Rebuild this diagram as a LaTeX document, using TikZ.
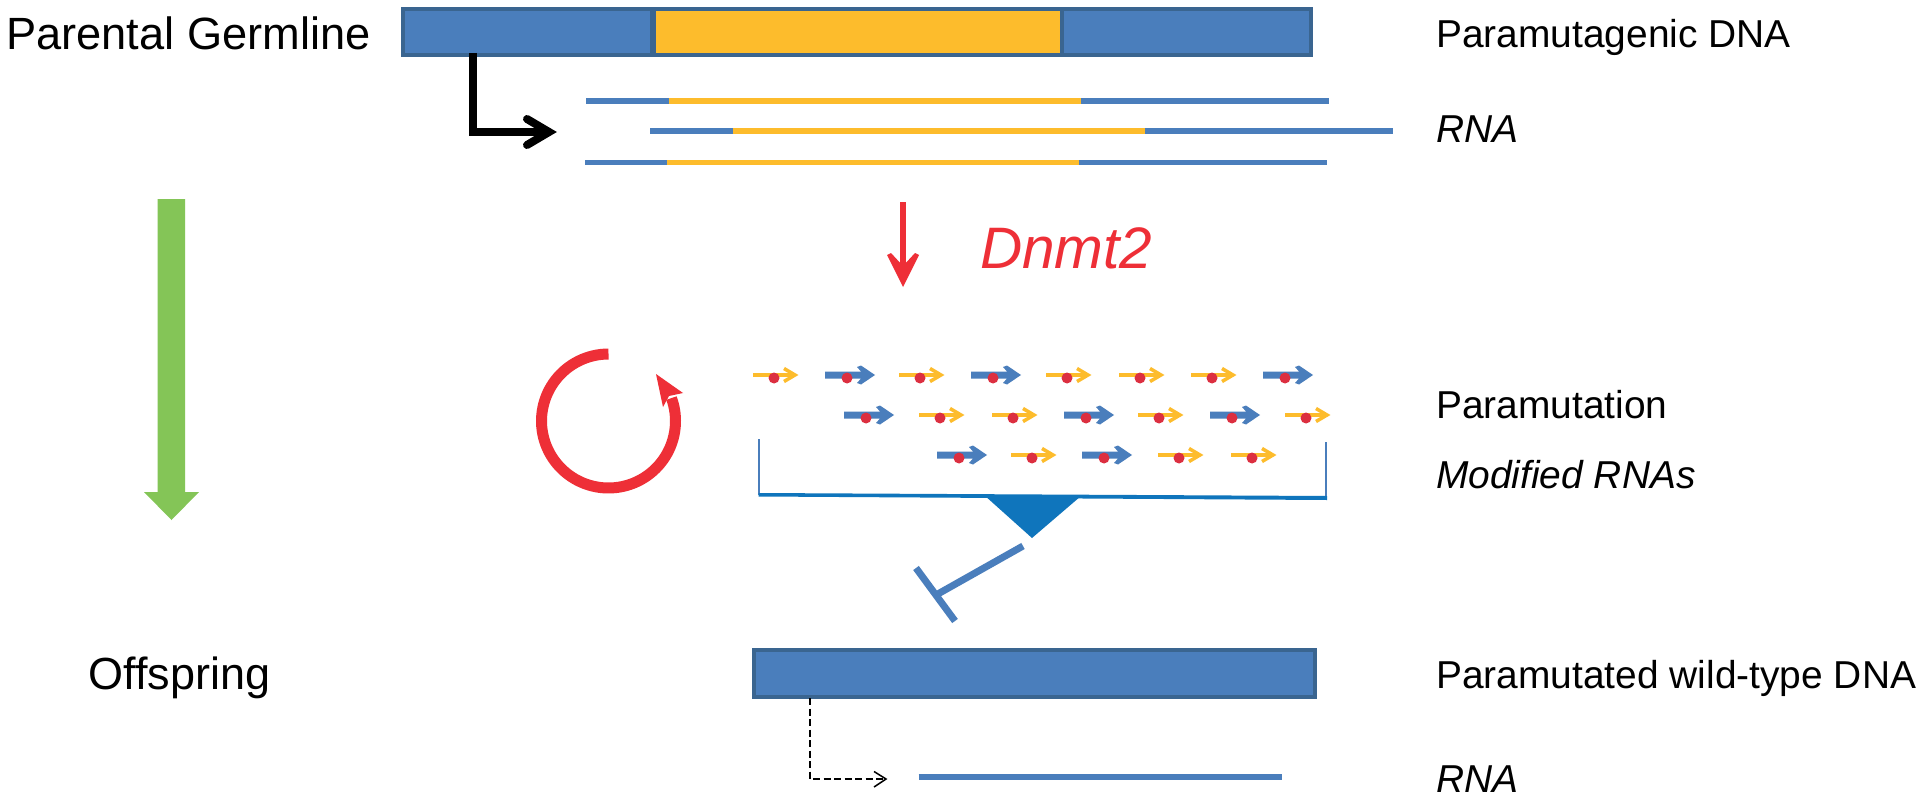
\documentclass[tikz,border=0pt]{standalone}
\usepackage{fontspec}
\setmainfont{Liberation Sans}
\definecolor{barblue}{HTML}{4A7EBC}
\definecolor{barline}{HTML}{3A6590}
\definecolor{baryellow}{HTML}{FDBC2C}
\definecolor{redc}{HTML}{EE2F37}
\definecolor{dotred}{HTML}{DC2F40}
\definecolor{greenc}{HTML}{84C557}
\definecolor{deepblue}{HTML}{0F75BC}
\tikzset{
  bluebar/.style={draw=barline,line width=4pt,fill=barblue,inner sep=0pt},
  yellowbar/.style={draw=barline,line width=4pt,fill=baryellow,inner sep=0pt},
  biglabel/.style={anchor=base west,inner sep=0pt,font=\fontsize{45.2}{50}\selectfont},
  offlabel/.style={anchor=base west,inner sep=0pt,font=\fontsize{45}{50}\selectfont},
  sidelabel/.style={anchor=base west,inner sep=0pt,font=\fontsize{38.9}{44}\selectfont},
  sideital/.style={anchor=base west,inner sep=0pt,font=\fontsize{38.9}{44}\selectfont\itshape},
  rnablue/.style={draw=barblue,line width=5.5pt},
  rnayellow/.style={draw=baryellow,line width=5.5pt},
}
\newcommand{\yellowarrow}[2]{%
  \draw[baryellow,line width=3.5pt] (#1,#2) -- ++(41,0);
  \draw[baryellow,line width=3.5pt,line join=miter] (#1+31,#2-6.5) -- (#1+42,#2) -- (#1+31,#2+6.5);
  \fill[dotred] (#1+21,#2+3) circle[radius=5.5pt];}
\newcommand{\bluearrow}[2]{%
  \fill[barblue] (#1,#2-3.5) -- (#1+36,#2-3.5) -- (#1+32,#2-8) -- (#1+36,#2-9.5) -- (#1+50,#2) -- (#1+36,#2+9.5) -- (#1+32,#2+8) -- (#1+36,#2+3.5) -- (#1,#2+3.5) -- cycle;
  \fill[dotred] (#1+22,#2+3) circle[radius=5.5pt];}
\begin{document}
\begin{tikzpicture}[x=1pt,y=-1pt]
\useasboundingbox (0,0) rectangle (1922,800);
\fill[white] (0,0) rectangle (1922,800);
% labels
\node[biglabel] (parental) at (6,49) {Parental Germline};
\node[offlabel] (offspring) at (88.5,689) {Offspring};
\node[sidelabel] (dna) at (1436,48) {Paramutagenic DNA};
\node[sideital] (rnatop) at (1436,142) {RNA};
\node[anchor=base west,inner sep=0pt,text=redc,font=\fontsize{58.5}{62}\selectfont\itshape] (dnmt) at (980,268) {Dnmt2};
\node[sidelabel] (paramutation) at (1436,418) {Paramutation};
\node[sideital] (modified) at (1436,488) {Modified RNAs};
\node[sidelabel] (wild) at (1436,688) {Paramutated wild-type DNA};
\node[sideital] (rnabot) at (1436,792) {RNA};
% top bar
\node[bluebar,minimum width=249pt,minimum height=46pt] (barL) at (527,32) {};
\node[yellowbar,minimum width=408pt,minimum height=46pt] (barM) at (858,32) {};
\node[bluebar,minimum width=249pt,minimum height=46pt] (barR) at (1186,32) {};
% RNA lines
\foreach \yy/\a/\b/\c/\d in {101/586/669/1081/1329,131/650/733/1145/1393,162.5/585/667/1079/1327}{
  \draw[rnablue] (\a,\yy) -- (\b,\yy);
  \draw[rnablue] (\c,\yy) -- (\d,\yy);
  \draw[rnayellow] (\b,\yy) -- (\c,\yy);
}
% black bent arrow
\coordinate (bentstart) at (473,53);
\coordinate (bentcorner) at (473,132);
\coordinate (benttip) at (549,132);
\draw[black,line width=8pt,line join=miter] (bentstart) -- (bentcorner) -- (benttip);
\draw[black,line width=8pt,line cap=round,line join=miter] (527,119) -- (benttip) -- (527,145);
% green arrow
\fill[greenc] (157.5,199) -- (185,199) -- (185,492) -- (199,492) -- (171.5,520) -- (144,492) -- (157.5,492) -- cycle;
% red arrow
\coordinate (redstart) at (903,202);
\coordinate (redend) at (903,270);
\draw[redc,line width=6pt] (redstart) -- (redend);
\fill[redc] (903,287) -- (887,255) -- (891,253) -- (903,266) -- (915,253) -- (919,255) -- cycle;
% red cycle
\draw[redc,line width=11pt] plot[domain=90:380,samples=90,smooth] ({608.5+67*cos(\x)},{421-67*sin(\x)});
\fill[redc] (656,374) -- (683,393) -- (669,396) -- (663,407) -- cycle;
% modified RNAs
\foreach \xx in {753,899,1046,1119,1191} {\yellowarrow{\xx}{375}}
\foreach \xx in {825,971,1263} {\bluearrow{\xx}{375}}
\foreach \xx in {919,992,1138,1285} {\yellowarrow{\xx}{415}}
\foreach \xx in {844,1064,1210} {\bluearrow{\xx}{415}}
\foreach \xx in {1011,1158,1231} {\yellowarrow{\xx}{455}}
\foreach \xx in {937,1082} {\bluearrow{\xx}{455}}
% bracket
\draw[barblue,line width=1.5pt] (759,439) -- (759,495);
\draw[barblue,line width=1.5pt] (1326,442) -- (1326,499);
\fill[deepblue] (758.5,493) -- (1327,496) -- (1327,500) -- (758.5,496.5) -- cycle;
\fill[deepblue] (984,495) -- (1081,496) -- (1032,538) -- cycle;
% inhibition
\coordinate (tstart) at (1023,546);
\coordinate (tend) at (936,595);
\draw[barblue,line width=7pt] (tstart) -- (tend);
\draw[barblue,line width=7pt] (916,568) -- (955,621);
% bottom bar
\node[bluebar,minimum width=561pt,minimum height=47pt] (barB) at (1034.5,673.5) {};
% dashed
\coordinate (dashstart) at (810,698);
\coordinate (dashcorner) at (810,779);
\coordinate (dashtip) at (886,779);
\draw[black,line width=1.5pt,dash pattern=on 7pt off 3.5pt] (dashstart) -- (dashcorner) -- (dashtip);
\draw[black,line width=1.5pt] (874,771.5) -- (dashtip) -- (874,787);
\draw[rnablue] (918.5,777) -- (1281.5,777);
\end{tikzpicture}
\end{document}
